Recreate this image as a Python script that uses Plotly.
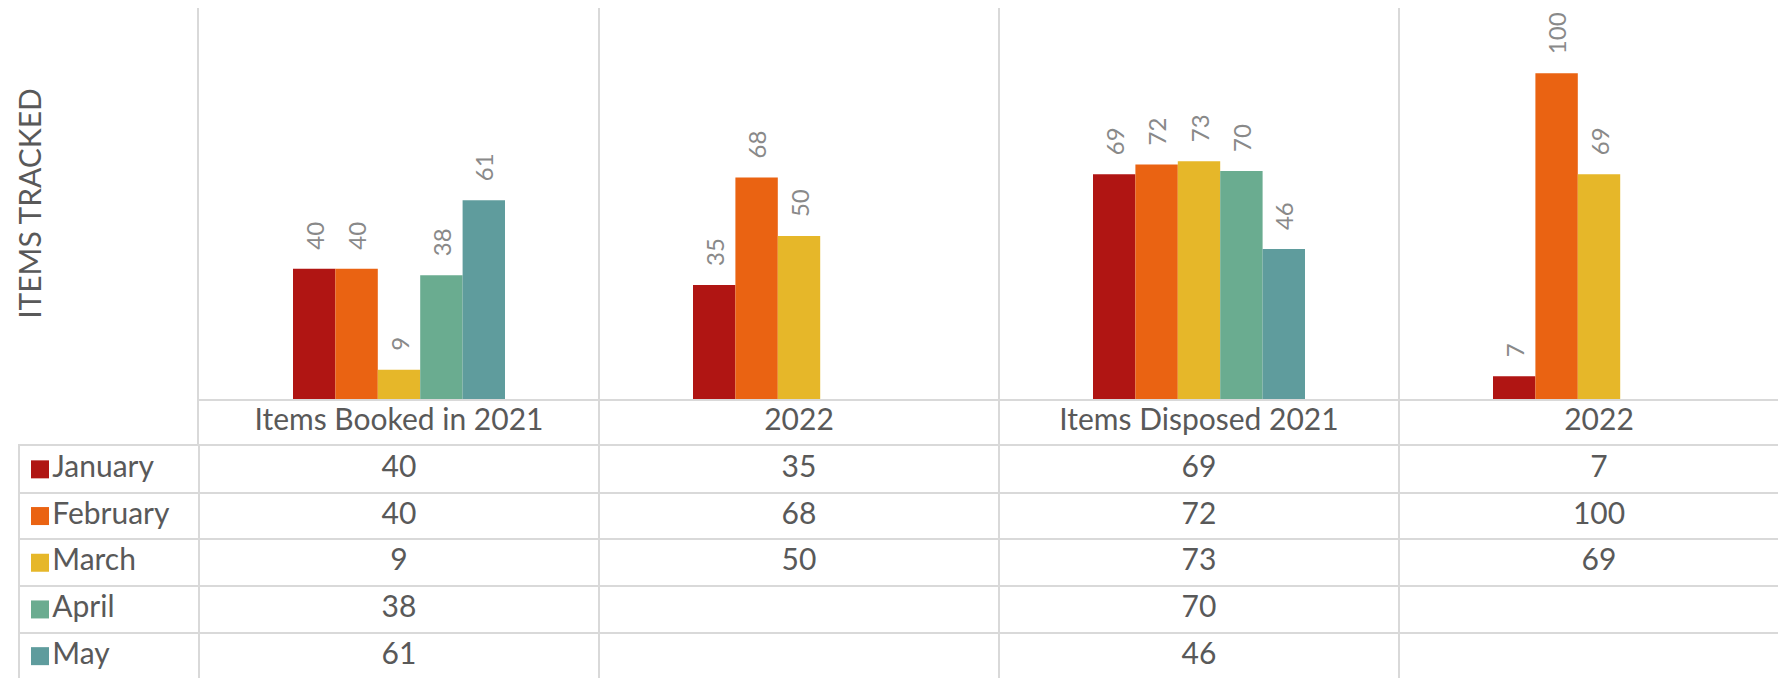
import plotly.graph_objects as go

# ---------------- data ----------------
categories = ["Items Booked in 2021", "2022", "Items Disposed 2021", "2022"]
months = ["January", "February", "March", "April", "May"]
january = [40, 35, 69, 7]
february = [40, 68, 72, 100]
march = [9, 50, 73, 69]
april = [38, None, 70, None]
may = [61, None, 46, None]
series = [january, february, march, april, may]
colors = ["#B01513", "#EA6312", "#E6B729", "#6AAC90", "#5F9C9D"]
y_title = "ITEMS TRACKED"

# ---------------- layout geometry (pixels, figure coords; page has 8px body margin) ----------------
OFF = 8
W, H = 1786 - OFF, 678 - OFF
plot_left = 199 - OFF
table_left = 20 - OFF
plot_top = 8 - OFF
base_y = 399 - OFF
header_bottom = 446 - OFF
cat_px = 400.0
row_px = 46.7

grid_col = "#D9D9D9"
text_col = "#595959"
label_col = "#898989"
FONT = "Lato"

pos = list(range(len(categories)))
x_hi = -0.5 + (W - plot_left) / cat_px
x3_lo = -0.5 - (plot_left - table_left) / cat_px
row_hi = 0.5 + (H - header_bottom) / row_px
key_x = x3_lo + (40 - OFF - table_left) / cat_px

fig = go.Figure()

# bars
for m, vals, c in zip(months, series, colors):
    fig.add_trace(go.Bar(
        x=pos, y=vals, name=m, marker=dict(color=c, line=dict(width=0)),
        text=[("" if v is None else "\u2002\u2006" + str(v)) for v in vals],
        textposition="outside", textangle=-90, constraintext="none",
        cliponaxis=False,
        textfont=dict(family=FONT, size=24, color=label_col),
        xaxis="x", yaxis="y", showlegend=False, hoverinfo="skip",
    ))

# header row: category names
fig.add_trace(go.Scatter(
    x=pos, y=[0] * len(pos), mode="text", text=categories,
    textfont=dict(family=FONT, size=30, color=text_col),
    xaxis="x", yaxis="y2", showlegend=False, hoverinfo="skip",
))

# data table rows
for r, (m, vals, c) in enumerate(zip(months, series, colors), start=1):
    xs = [p for p, v in zip(pos, vals) if v is not None]
    ts = [str(v) for v in vals if v is not None]
    fig.add_trace(go.Scatter(
        x=xs, y=[r] * len(xs), mode="text", text=ts,
        textfont=dict(family=FONT, size=30, color=text_col),
        xaxis="x3", yaxis="y3", showlegend=False, hoverinfo="skip",
        cliponaxis=False,
    ))
    # legend key + month name
    fig.add_trace(go.Scatter(
        x=[key_x], y=[r], mode="markers+text", text=[m],
        textposition="middle right",
        marker=dict(symbol="square", size=18, color=c),
        textfont=dict(family=FONT, size=30, color=text_col),
        xaxis="x3", yaxis="y3", showlegend=False, hoverinfo="skip",
        cliponaxis=False,
    ))

yA = [1 - base_y / H, 1 - plot_top / H]
yB = [1 - header_bottom / H, 1 - base_y / H]
yC = [0, 1 - header_bottom / H]

fig.update_layout(
    width=W, height=H,
    margin=dict(l=0, r=0, t=0, b=0),
    paper_bgcolor="white", plot_bgcolor="white",
    barmode="group", bargap=0.47, bargroupgap=0,
    font=dict(family=FONT, color=text_col),
    xaxis=dict(
        domain=[plot_left / W, 1], range=[-0.5, x_hi],
        tickvals=[0.5, 1.5, 2.5], showticklabels=False, ticks="",
        showgrid=True, gridcolor=grid_col, gridwidth=2,
        showline=True, linecolor=grid_col, linewidth=2,
        zeroline=False, anchor="y",
    ),
    yaxis=dict(
        domain=yA, range=[0, 120], showgrid=False, zeroline=False,
        showticklabels=False, ticks="",
        showline=True, linecolor=grid_col, linewidth=2,
        title=dict(text=y_title, font=dict(family=FONT, size=30, color=text_col),
                   standoff=147),
        anchor="x",
    ),
    yaxis2=dict(
        domain=yB, range=[-0.5, 0.5], showgrid=False, zeroline=False,
        showticklabels=False, ticks="",
        showline=True, linecolor=grid_col, linewidth=2, anchor="x",
    ),
    xaxis3=dict(
        domain=[table_left / W, 1], range=[x3_lo, x_hi],
        tickvals=[-0.5, 0.5, 1.5, 2.5], showticklabels=False, ticks="",
        showgrid=True, gridcolor=grid_col, gridwidth=2,
        showline=True, linecolor=grid_col, linewidth=2, side="top",
        zeroline=False, anchor="y3",
    ),
    yaxis3=dict(
        domain=yC, range=[row_hi, 0.5],
        tickvals=[1.5, 2.5, 3.5, 4.5], showticklabels=False, ticks="",
        showgrid=True, gridcolor=grid_col, gridwidth=2,
        showline=True, linecolor=grid_col, linewidth=2,
        zeroline=False, anchor="x3",
    ),
)

fig.write_html("out.html")
